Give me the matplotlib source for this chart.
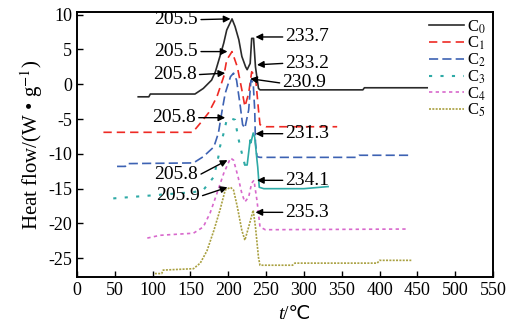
import matplotlib
matplotlib.use("Agg")
import matplotlib.pyplot as plt

plt.rcParams['font.family'] = ['Liberation Serif', 'DejaVu Sans']
plt.rcParams['mathtext.fontset'] = 'stix'
plt.rcParams['axes.unicode_minus'] = False

# ---- data ----
c0_x = [81, 95, 97, 156, 167, 178, 183, 189, 194, 198, 205, 209, 214, 218, 223, 225, 229, 231, 233.5, 236, 240, 242, 378, 380, 463]
c0_y = [-1.8, -1.8, -1.4, -1.4, -0.6, 0.6, 1.8, 4.0, 5.9, 7.8, 9.4, 8.3, 6.4, 4.0, 2.5, 2.1, 3.0, 6.6, 6.6, 2.5, -0.6, -0.8, -0.8, -0.5, -0.5]

c1_x = [35, 153, 163, 174, 185, 194, 198, 205, 212, 218, 222, 227, 231, 236, 240, 242, 250, 344]
c1_y = [-6.9, -6.9, -5.6, -4.1, -1.8, 1.1, 3.5, 4.7, 2.5, -0.8, -3.2, -1.3, 1.8, 1.1, -3.7, -5.8, -6.1, -6.1]

c2_x = [53, 64, 66, 154, 167, 181, 187, 192, 196, 203, 207, 211, 216, 219, 222, 227, 230, 233, 235, 236, 238, 242, 370, 373, 442]
c2_y = [-11.8, -11.8, -11.4, -11.3, -10.4, -9.0, -7.0, -3.7, -1.3, 1.1, 1.6, 0.6, -3.2, -5.8, -6.3, -3.7, 0.6, 0.2, -3.7, -8.4, -10.4, -10.5, -10.5, -10.2, -10.2]

c3_x = [48, 154, 167, 181, 187, 189, 194, 198, 203, 209, 213, 218, 222]
c3_y = [-16.4, -15.5, -15.2, -13.3, -10.4, -9.0, -7.0, -5.1, -4.9, -5.1, -7.6, -9.9, -11.6]
c3b_x = [222, 225, 229, 230, 233, 235, 238, 239, 241, 247, 300, 332]
c3b_y = [-11.6, -11.6, -8.0, -8.4, -7.0, -7.6, -10.9, -11.9, -14.8, -15.0, -15.0, -14.7]

c4_x = [93, 110, 154, 167, 176, 185, 194, 203, 207, 213, 218, 222, 227, 231, 234, 238, 242, 249, 437]
c4_y = [-22.1, -21.7, -21.4, -20.5, -18.5, -15.7, -12.8, -10.6, -10.9, -13.3, -15.7, -16.9, -16.2, -14.2, -13.8, -16.7, -20.5, -20.9, -20.8]

c5_x = [103, 112, 114, 154, 163, 172, 181, 189, 196, 203, 207, 212, 218, 222, 227, 233, 236, 240, 242, 285, 288, 397, 400, 442]
c5_y = [-27.2, -27.2, -26.7, -26.5, -25.7, -23.9, -21.0, -18.1, -15.2, -14.8, -15.2, -17.6, -21.0, -22.4, -20.5, -18.1, -20.5, -24.9, -26.0, -26.0, -25.7, -25.7, -25.3, -25.3]

labels = [r'C$_0$', r'C$_1$', r'C$_2$', r'C$_3$', r'C$_4$', r'C$_5$']

# annotations: text, arrow tip, arrow start (text sits beyond the start)
ann_text = ['205.5', '205.5', '205.8', '205.8', '205.8', '205.9',
            '233.7', '233.2', '230.9', '231.3', '234.1', '235.3']
ann_xy = [(203, 9.4), (199, 4.7), (196, 1.6), (196, -4.8), (199, -10.9), (199, -14.8),
          (236, 6.8), (238, 2.8), (229, 0.8), (236, -7.1), (238, -13.8), (236, -18.4)]
ann_start = [(164, 9.3), (164, 4.7), (162, 1.4), (161, -4.8), (164, -12.9), (166, -16.0),
             (272, 6.8), (272, 3.0), (268, 0.2), (272, -7.1), (272, -13.8), (272, -18.4)]

xticks = list(range(0, 551, 50))
yticks = list(range(-25, 11, 5))

fig = plt.figure(figsize=(5.13, 3.31), dpi=100)
ax = fig.add_axes([0.150, 0.163, 0.811, 0.801])

ax.plot(c0_x, c0_y, color='#2a2a2a', lw=1.2, label=labels[0])
ax.plot(c1_x, c1_y, color='#ee2a24', lw=1.2, dashes=(5, 3), label=labels[1])
ax.plot(c2_x, c2_y, color='#3d62b3', lw=1.2, dashes=(5.5, 2.5), label=labels[2])
ax.plot(c3_x, c3_y, color='#2eaaa6', lw=1.5, dashes=(1.5, 4), label=labels[3])
ax.plot(c3b_x, c3b_y, color='#2eaaa6', lw=1.2)
ax.plot(c4_x, c4_y, color='#d868cc', lw=1.2, dashes=(2, 2), label=labels[4])
ax.plot(c5_x, c5_y, color='#a9a040', lw=1.2, dashes=(1.2, 0.8), label=labels[5])

for t, tip, st in zip(ann_text, ann_xy, ann_start):
    left = st[0] < tip[0]
    ax.annotate('', xy=tip, xytext=st,
                arrowprops=dict(arrowstyle='-|>', color='black', lw=1.0,
                                mutation_scale=10, shrinkA=0, shrinkB=0))
    ax.annotate(t, xy=st, xytext=(-2 if left else 2, 0), textcoords='offset points',
                fontsize=14, ha='right' if left else 'left', va='center')

ax.set_xlim(0, 550)
ax.set_ylim(-27.7, 10.4)
ax.set_xticks(xticks)
ax.set_yticks(yticks)
ax.tick_params(direction='in', length=4, width=1.0, labelsize=13, top=False, right=False)
for s in ax.spines.values():
    s.set_linewidth(1.4)
ax.set_ylabel(r'Heat flow/(W • g$^{-1}$)', fontsize=15, labelpad=2)

# x label: italic t + "/℃"
fig.text(0.552, 0.036, 't', fontsize=14, style='italic', ha='right', va='baseline')
fig.text(0.552, 0.036, '/℃', fontsize=14, ha='left', va='baseline')

leg = ax.legend(loc='upper right', bbox_to_anchor=(1.012, 1.02), frameon=False, fontsize=12,
                handlelength=2.1, handletextpad=0.2, labelspacing=-0.04, borderpad=0.2)

fig.savefig('out.png', dpi=100)
